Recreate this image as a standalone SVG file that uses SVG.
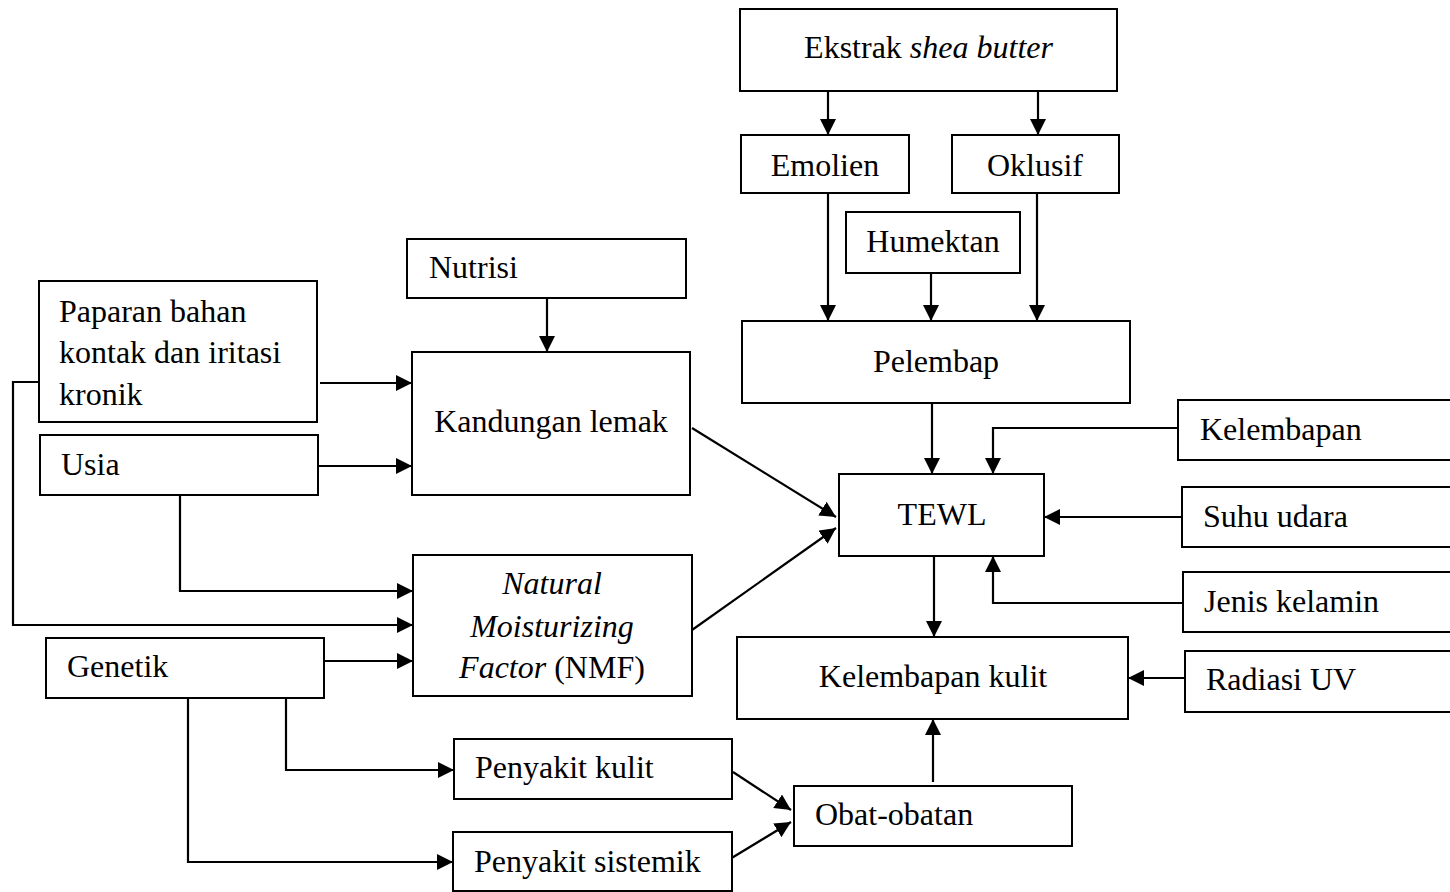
<svg xmlns="http://www.w3.org/2000/svg" width="1450" height="892" viewBox="0 0 1450 892">
<style>
.box{fill:#fff;stroke:#000;stroke-width:2}
.t{font-family:"Liberation Serif","Times New Roman",serif;font-size:32px;fill:#000}
.c{text-anchor:middle}
.i{font-style:italic}
.ln{fill:none;stroke:#000;stroke-width:2.2;marker-end:url(#ah)}
</style>
<defs>
<marker id="ah" markerUnits="userSpaceOnUse" markerWidth="17" markerHeight="16" refX="16" refY="8" orient="auto">
<path d="M0,0 L16,8 L0,16 z" fill="#000"/>
</marker>
</defs>
<rect width="1450" height="892" fill="#fff"/>
<g id="connectors">
<path class="ln" d="M828,91 V135"/>
<path class="ln" d="M1038,91 V135"/>
<path class="ln" d="M828,193 V321"/>
<path class="ln" d="M931,273 V321"/>
<path class="ln" d="M1037,193 V321"/>
<path class="ln" d="M932,403 V474"/>
<path class="ln" d="M1178,428 H993 V474"/>
<path class="ln" d="M1182,517 H1044"/>
<path class="ln" d="M1183,603 H993 V556"/>
<path class="ln" d="M934,556 V637"/>
<path class="ln" d="M1185,678 H1128"/>
<path class="ln" d="M933,782 V719"/>
<path class="ln" d="M547,298 V352"/>
<path class="ln" d="M320,383 H412"/>
<path class="ln" d="M316,466 H412"/>
<path class="ln" d="M692,428 L836,517"/>
<path class="ln" d="M692,630 L836,528"/>
<path class="ln" d="M180,495 V591 H413"/>
<path class="ln" d="M39,382 H13 V625 H413"/>
<path class="ln" d="M324,661 H413"/>
<path class="ln" d="M286,698 V770 H454"/>
<path class="ln" d="M188,698 V862 H453"/>
<path class="ln" d="M733,772 L791,810"/>
<path class="ln" d="M730,859 L791,822"/>
</g>
<g id="ekstrak"><rect class="box" x="740" y="9" width="377" height="82"/><text class="t c" x="928.5" y="58">Ekstrak <tspan class="i">shea butter</tspan></text></g>
<g id="emolien"><rect class="box" x="741" y="135" width="168" height="58"/><text class="t c" x="825" y="176">Emolien</text></g>
<g id="oklusif"><rect class="box" x="952" y="135" width="167" height="58"/><text class="t c" x="1035" y="176">Oklusif</text></g>
<g id="humektan"><rect class="box" x="846" y="212" width="174" height="61"/><text class="t c" x="933" y="252">Humektan</text></g>
<g id="pelembap"><rect class="box" x="742" y="321" width="388" height="82"/><text class="t c" x="936" y="372">Pelembap</text></g>
<g id="tewl"><rect class="box" x="839" y="474" width="205" height="82"/><text class="t c" x="942" y="525">TEWL</text></g>
<g id="kelembapan"><rect class="box" x="1178" y="400" width="280" height="60"/><text class="t" x="1200" y="440">Kelembapan</text></g>
<g id="suhu"><rect class="box" x="1182" y="487" width="276" height="60"/><text class="t" x="1203" y="527">Suhu udara</text></g>
<g id="jenis"><rect class="box" x="1183" y="572" width="275" height="60"/><text class="t" x="1204" y="612">Jenis kelamin</text></g>
<g id="radiasi"><rect class="box" x="1185" y="651" width="273" height="61"/><text class="t" x="1206" y="690">Radiasi UV</text></g>
<g id="kulit"><rect class="box" x="737" y="637" width="391" height="82"/><text class="t c" x="933" y="687">Kelembapan kulit</text></g>
<g id="obat"><rect class="box" x="794" y="786" width="278" height="60"/><text class="t" x="815" y="825">Obat-obatan</text></g>
<g id="nutrisi"><rect class="box" x="407" y="239" width="279" height="59"/><text class="t" x="429" y="278">Nutrisi</text></g>
<g id="kandungan"><rect class="box" x="412" y="352" width="278" height="143"/><text class="t c" x="551" y="432">Kandungan lemak</text></g>
<g id="paparan"><rect class="box" x="39" y="281" width="278" height="141"/><text class="t" x="59" y="322">Paparan bahan</text><text class="t" x="59" y="363">kontak dan iritasi</text><text class="t" x="59" y="405">kronik</text></g>
<g id="usia"><rect class="box" x="40" y="435" width="278" height="60"/><text class="t" x="61" y="475">Usia</text></g>
<g id="nmf"><rect class="box" x="413" y="555" width="279" height="141"/><text class="t c i" x="552" y="594">Natural</text><text class="t c i" x="552" y="637">Moisturizing</text><text class="t c" x="552" y="678"><tspan class="i">Factor</tspan> (NMF)</text></g>
<g id="genetik"><rect class="box" x="46" y="638" width="278" height="60"/><text class="t" x="67" y="677">Genetik</text></g>
<g id="penyakit-kulit"><rect class="box" x="454" y="739" width="278" height="60"/><text class="t" x="475" y="778">Penyakit kulit</text></g>
<g id="penyakit-sistemik"><rect class="box" x="453" y="832" width="279" height="59"/><text class="t" x="474" y="872">Penyakit sistemik</text></g>
</svg>
